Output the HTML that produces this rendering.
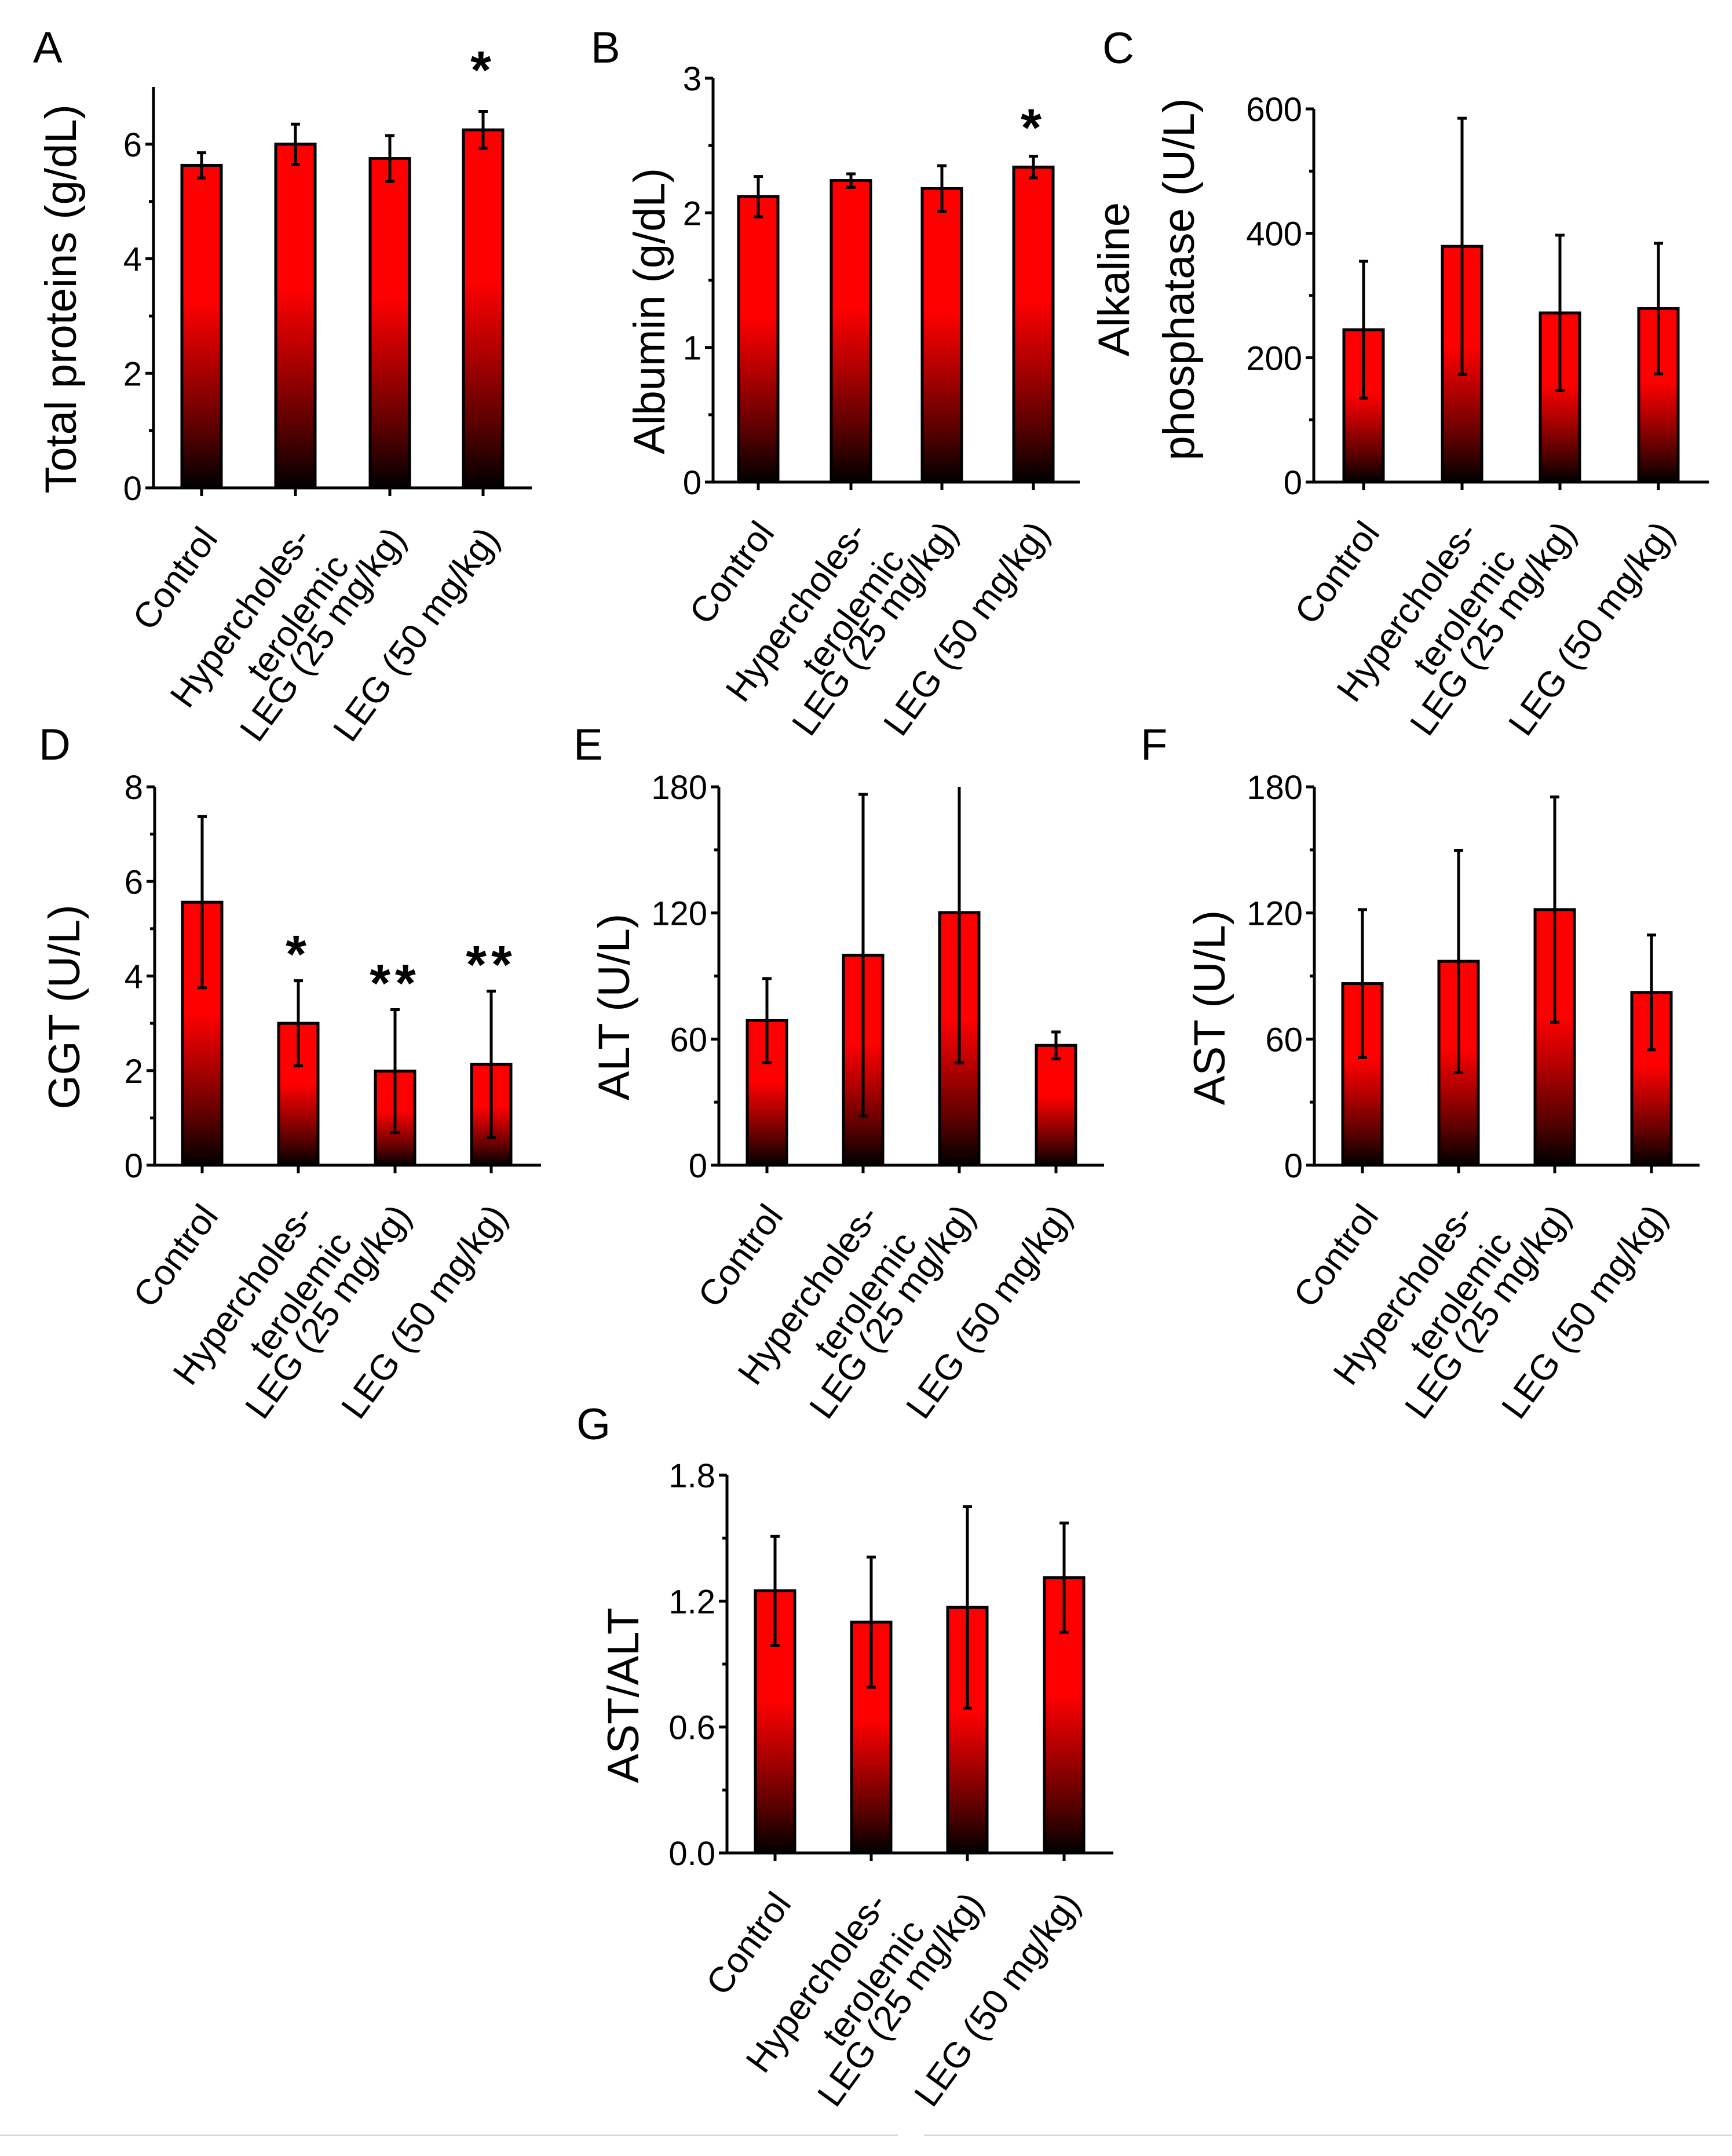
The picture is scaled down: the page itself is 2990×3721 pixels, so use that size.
<!DOCTYPE html>
<html><head><meta charset="utf-8"><style>
html,body{margin:0;padding:0;background:#fff;}
svg{display:block;font-family:"Liberation Sans",Arial,sans-serif;}
</style></head><body>
<svg id="fig" width="2990" height="3721" viewBox="0 0 2990 3721" xmlns="http://www.w3.org/2000/svg">
<defs>
<linearGradient id="barGrad" x1="0" y1="0" x2="0" y2="1">
<stop offset="0" stop-color="#ff0000"/>
<stop offset="0.42" stop-color="#ff0000"/>
<stop offset="0.62" stop-color="#b00000"/>
<stop offset="0.82" stop-color="#5a0000"/>
<stop offset="1" stop-color="#000000"/>
</linearGradient>
</defs>
<line x1="0" y1="3685" x2="1550" y2="3685" stroke="#d0d0d0" stroke-width="2"/>
<line x1="1595" y1="3685" x2="2990" y2="3685" stroke="#d0d0d0" stroke-width="2"/>
</svg>
<script>
const categories = [["Control"],["Hypercholes-","terolemic"],["LEG (25 mg/kg)"],["LEG (50 mg/kg)"]];

const totalProteins = [5.63, 6.0, 5.75, 6.25];
const totalProteinsErr = [0.22, 0.35, 0.4, 0.32];
const totalProteinsStars = ["", "", "", "*"];
const totalProteinsTicks = ["0", "2", "4", "6"];

const albumin = [2.12, 2.24, 2.18, 2.34];
const albuminErr = [0.15, 0.05, 0.17, 0.08];
const albuminStars = ["", "", "", "*"];
const albuminTicks = ["0", "1", "2", "3"];

const alp = [245, 379, 272, 279];
const alpErr = [110, 206, 125, 105];
const alpStars = ["", "", "", ""];
const alpTicks = ["0", "200", "400", "600"];

const ggt = [5.56, 3.0, 1.99, 2.13];
const ggtErr = [1.81, 0.9, 1.3, 1.55];
const ggtStars = ["", "*", "**", "**"];
const ggtTicks = ["0", "2", "4", "6", "8"];

const alt = [68.8, 99.9, 120.2, 57];
const altErr = [20, 76.5, 71.5, 6.4];
const altStars = ["", "", "", ""];
const altTicks = ["0", "60", "120", "180"];

const ast = [86.4, 97, 121.6, 82.2];
const astErr = [35.2, 52.8, 53.6, 27.3];
const astStars = ["", "", "", ""];
const astTicks = ["0", "60", "120", "180"];

const ratio = [1.249, 1.10, 1.170, 1.312];
const ratioErr = [0.26, 0.31, 0.48, 0.26];
const ratioStars = ["", "", "", ""];
const ratioTicks = ["0.0", "0.6", "1.2", "1.8"];

const NS = "http://www.w3.org/2000/svg";
const svg = document.getElementById("fig");
function mk(tag, attrs, parent){
  const e = document.createElementNS(NS, tag);
  for (const k in attrs) e.setAttribute(k, attrs[k]);
  (parent||svg).appendChild(e);
  return e;
}

function panel(cfg, values, errs, stars, ticks){
  const g = mk("g", {});
  
  
  const yScale = v => cfg.y0 - (v - cfg.vmin) / (cfg.vmax - cfg.vmin) * (cfg.y0 - cfg.yTop);
  const L = mk("text", {x: cfg.lx, y: cfg.ly, "font-size": 76, fill: "#000"}, g);
  L.textContent = cfg.letter;
  
  
  cfg.title.forEach((t, i) => {
    const tx = cfg.titleX[i];
    const T = mk("text", {x: 0, y: 0, "font-size": 76, "text-anchor": "middle", transform: `translate(${tx},${cfg.titleY}) rotate(-90)`}, g);
    T.textContent = t;
    
    
  });
  values.forEach((v, i) => {
    const cx = cfg.bars[i];
    const top = yScale(v);
    const r = mk("rect", {x: cx - 34, y: top, width: 68, height: cfg.y0 - top, fill: "url(#barGrad)", stroke: "#000", "stroke-width": 5}, g);
    
    
    const hi = Math.min(v + errs[i], cfg.vmax), lo = v - errs[i];
    const e = mk("path", {d: `M${cx},${yScale(hi)}V${yScale(lo)}` + (v + errs[i] <= cfg.vmax ? `M${cx-8},${yScale(hi)}H${cx+8}` : "") + `M${cx-8},${yScale(lo)}H${cx+8}`, stroke: "#000", "stroke-width": 5, fill: "none"}, g);
    
    
    if (stars[i]) {
      const sy = yScale(v + errs[i]) - cfg.starGap[i];
      const s = mk("text", {x: cx, y: sy, "font-size": 92, "font-weight": "bold", "text-anchor": "middle", "letter-spacing": "8"}, g);
      s.textContent = stars[i];
      
      
    }
    mk("line", {x1: cx, y1: cfg.y0, x2: cx, y2: cfg.y0 + 14, stroke: "#000", "stroke-width": 5}, g);
    const lab = mk("text", {x: 0, y: 0, "font-size": 62, "text-anchor": "end", transform: `translate(${cx + 30},${cfg.y0 + 88}) rotate(-54)`}, g);
    
    
    categories[i].forEach((line, j) => {
      const ts = mk("tspan", {x: 0, y: j * 80}, lab);
      ts.textContent = line;
    });
  });
  const ax = mk("path", {d: `M${cfg.ax},${cfg.yTop}V${cfg.y0}M${cfg.ax - 14},${cfg.y0}H${cfg.xEnd}`, stroke: "#000", "stroke-width": 5, fill: "none"}, g);
  
  
  ticks.forEach((t, i) => {
    const v = parseFloat(t);
    const y = yScale(v);
    mk("line", {x1: cfg.ax - 14, y1: y, x2: cfg.ax, y2: y, stroke: "#000", "stroke-width": 5}, g);
    const tl = mk("text", {x: cfg.ax - 20, y: y + 21, "font-size": 58, "text-anchor": "end"}, g);
    tl.textContent = t;
    
    
    if (i < ticks.length - 1) {
      const mv = (v + parseFloat(ticks[i + 1])) / 2;
      const my = yScale(mv);
      mk("line", {x1: cfg.ax - 8, y1: my, x2: cfg.ax, y2: my, stroke: "#000", "stroke-width": 5}, g);
    }
  });
}

panel({letter:"A", lx:57, ly:108, title:["Total proteins (g/dL)"], titleX:[131], titleY:516,
  ax:265, yTop:150, y0:842, vmin:0, vmax:7, xEnd:918, bars:[348,510,673,834], starGap:[0,0,0,40]},
  totalProteins, totalProteinsErr, totalProteinsStars, totalProteinsTicks);
panel({letter:"B", lx:1020, ly:108, title:["Albumin (g/dL)"], titleX:[1147], titleY:537,
  ax:1231, yTop:135, y0:832, vmin:0, vmax:3, xEnd:1864, bars:[1309,1469,1626,1784], starGap:[0,0,0,18]},
  albumin, albuminErr, albuminStars, albuminTicks);
panel({letter:"C", lx:1903, ly:109, title:["Alkaline","phosphatase (U/L)"], titleX:[1949,2061], titleY:482,
  ax:2268, yTop:188, y0:832, vmin:0, vmax:600, xEnd:2950, bars:[2354,2524,2693,2863], starGap:[0,0,0,0]},
  alp, alpErr, alpStars, alpTicks);
panel({letter:"D", lx:67, ly:1311, title:["GGT (U/L)"], titleX:[137], titleY:1738,
  ax:267, yTop:1358, y0:2011, vmin:0, vmax:8, xEnd:934, bars:[349,515,682,848], starGap:[0,14,14,14]},
  ggt, ggtErr, ggtStars, ggtTicks);
panel({letter:"E", lx:990, ly:1311, title:["ALT (U/L)"], titleX:[1086], titleY:1738,
  ax:1241, yTop:1358, y0:2011, vmin:0, vmax:180, xEnd:1906, bars:[1324,1490,1656,1823], starGap:[0,0,0,0]},
  alt, altErr, altStars, altTicks);
panel({letter:"F", lx:1969, ly:1311, title:["AST (U/L)"], titleX:[2114], titleY:1739,
  ax:2269, yTop:1358, y0:2011, vmin:0, vmax:180, xEnd:2934, bars:[2352,2518,2684,2851], starGap:[0,0,0,0]},
  ast, astErr, astStars, astTicks);
panel({letter:"G", lx:995, ly:2484, title:["AST/ALT"], titleX:[1102], titleY:2926,
  ax:1255, yTop:2546, y0:3198, vmin:0, vmax:1.8, xEnd:1922, bars:[1338,1504,1670,1837], starGap:[0,0,0,0]},
  ratio, ratioErr, ratioStars, ratioTicks);
</script>
</body></html>
